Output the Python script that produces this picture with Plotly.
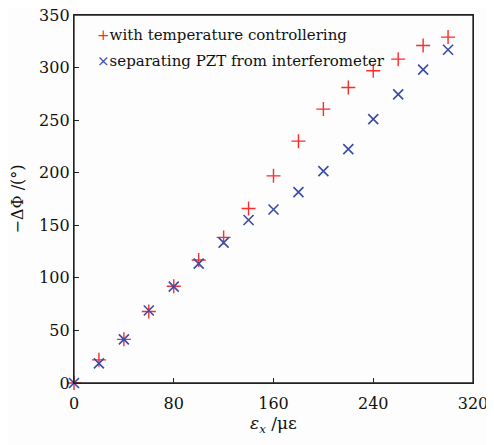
import plotly.graph_objects as go

strain = [0, 20, 40, 60, 80, 100, 120, 140, 160, 180, 200, 220, 240, 260, 280, 300]
phase_temp_ctrl = [0, 22, 41.5, 68, 92, 117, 138.5, 166, 197, 230, 260.5, 281, 297, 308, 321, 329]
phase_separated = [0, 18.7, 41.5, 69, 91.6, 113.5, 133.5, 155, 165, 181.5, 201.5, 222.5, 251, 274.5, 298, 317]

x_ticks = [0, 80, 160, 240, 320]
y_ticks = [0, 50, 100, 150, 200, 250, 300, 350]

series_names = ["with temperature controllering", "separating PZT from interferometer"]
series_colors = ["#ff2a2a", "#3a4ca6"]
legend_glyphs = ["+", "×"]

FONT = "DejaVu Serif"

fig = go.Figure()
fig.add_trace(go.Scatter(
    x=strain, y=phase_temp_ctrl, mode="markers", name=series_names[0], showlegend=False,
    marker=dict(symbol="cross-thin", size=10, line=dict(color=series_colors[0], width=1.4)),
))
fig.add_trace(go.Scatter(
    x=strain, y=phase_separated, mode="markers", name=series_names[1], showlegend=False,
    marker=dict(symbol="x-thin", size=10, line=dict(color=series_colors[1], width=1.6)),
))

# legend drawn as text entries (glyph + label), top-left inside the plot
legend_y = [0.946, 0.875]
for name, col, g, yy in zip(series_names, series_colors, legend_glyphs, legend_y):
    fig.add_annotation(
        xref="paper", yref="paper", x=0.052, y=yy, xanchor="left", yanchor="middle",
        showarrow=False,
        text=f"<span style='color:{col}'>{g}</span>{name}",
        font=dict(family=FONT, size=15, color="#111"),
    )

# plot frame
fig.add_shape(type="rect", xref="paper", yref="paper", x0=0, y0=0, x1=1, y1=1,
              line=dict(color="#222", width=1.3), fillcolor="rgba(0,0,0,0)", layer="above")

axis_common = dict(
    showgrid=False, zeroline=False, showline=True, linecolor="#222", linewidth=1.3,
    mirror=True, ticks="inside", ticklen=5, tickcolor="#222", tickwidth=1.3,
    tickfont=dict(family=FONT, size=16, color="#111"), automargin=False,
    ticklabeloverflow="allow",
)

# the page adds an 8px body margin at top-left; figure fills the rest of the window
fig.update_layout(
    width=486, height=437,
    margin=dict(l=66, r=21, t=7, b=62),
    paper_bgcolor="#fdfdfd", plot_bgcolor="#fdfdfd",
    showlegend=False,
    xaxis=dict(range=[0, 320], tickvals=x_ticks, ticktext=[str(v) for v in x_ticks],
               ticklabelstandoff=6,
               title=dict(text="<i>ε</i><sub><i>x</i></sub> /με", standoff=3,
                          font=dict(family=FONT, size=17, color="#111")),
               **axis_common),
    yaxis=dict(range=[0, 350], tickvals=y_ticks, ticktext=[str(v) for v in y_ticks],
               title=dict(text="−ΔΦ /(°)", standoff=12,
                          font=dict(family=FONT, size=16, color="#111")),
               **axis_common),
)
for tr in fig.data:
    tr.cliponaxis = False

fig.write_html("out.html")
